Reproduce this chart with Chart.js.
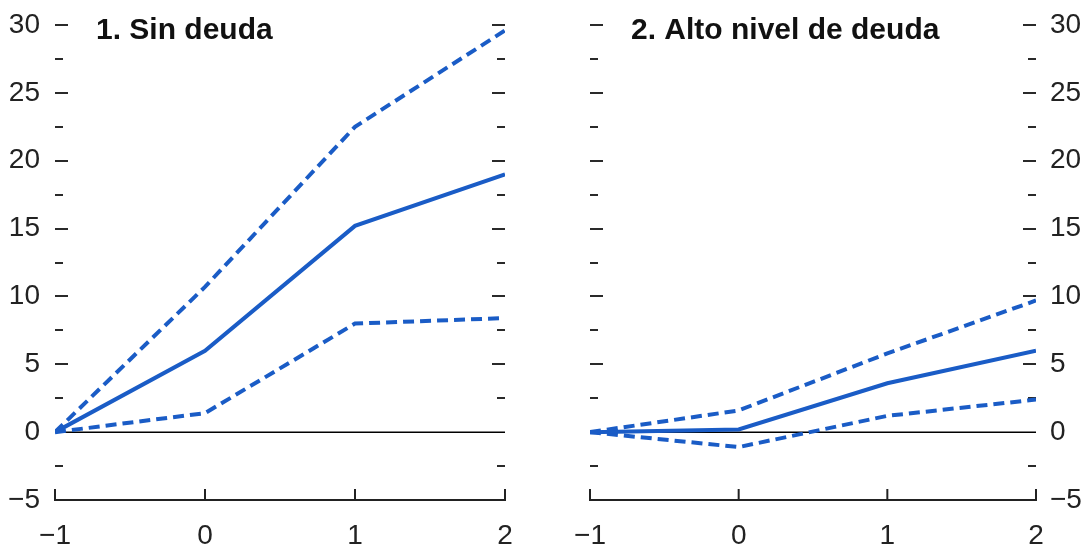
<!DOCTYPE html>
<html>
<head>
<meta charset="utf-8">
<script src="https://cdn.jsdelivr.net/npm/chart.js@4.4.1/dist/chart.umd.min.js"></script>
<style>
  html, body { margin: 0; padding: 0; background: #fff; }
  #wrap { position: relative; width: 1085px; height: 546px; }
  canvas { position: absolute; top: 0; }
</style>
</head>
<body>
<div id="wrap">
  <canvas id="left" width="545" height="546" style="left:0;width:545px;height:546px"></canvas>
  <canvas id="right" width="540" height="546" style="left:545px;width:540px;height:546px"></canvas>
</div>
<script>
// horizon (years)
const years = [-1, 0, 1, 2];

// panel 1: no debt
const noDebtMid = [0, 6.0, 15.2, 19.0];
const noDebtHigh = [0, 10.7, 22.5, 29.6];
const noDebtLow = [0, 1.4, 8.0, 8.4];

// panel 2: high debt
const highDebtMid = [0, 0.2, 3.6, 6.0];
const highDebtHigh = [0, 1.6, 5.8, 9.7];
const highDebtLow = [0, -1.1, 1.2, 2.4];

const panelTitles = ["1. Sin deuda", "2. Alto nivel de deuda"];

const BLUE = "#1a5cc6";
const FONT = "'Liberation Sans Narrow', 'Arial Narrow', 'Liberation Sans', sans-serif";

function pts(vals) {
  return years.map((x, i) => ({ x: x, y: vals[i] }));
}

function line(ctx, x1, y1, x2, y2) {
  ctx.beginPath();
  ctx.moveTo(x1, y1);
  ctx.lineTo(x2, y2);
  ctx.stroke();
}

const frame = {
  id: "frame",
  beforeDatasetsDraw(chart) {
    const { ctx, chartArea: a, scales } = chart;
    const x = scales.x, y = scales.y;
    ctx.save();
    // zero line
    ctx.strokeStyle = "#000";
    ctx.lineWidth = 1.5;
    const y0 = y.getPixelForValue(0);
    line(ctx, a.left, y0, a.right, y0);
    // inward y tick marks on both sides
    ctx.strokeStyle = "#2a2a2a";
    ctx.lineWidth = 2;
    for (let v = -2.5; v <= 30; v += 2.5) {
      if (v === 0) continue;
      const len = v % 5 === 0 ? 13 : 8;
      const py = Math.round(y.getPixelForValue(v));
      line(ctx, a.left, py, a.left + len, py);
      line(ctx, a.right - len, py, a.right, py);
    }
    // x axis line and ticks
    ctx.strokeStyle = "#222";
    line(ctx, a.left - 1, a.bottom, a.right + 1, a.bottom);
    years.forEach(v => {
      const px = x.getPixelForValue(v);
      line(ctx, px, a.bottom, px, a.bottom - 11);
    });
    // panel title
    ctx.fillStyle = "#111";
    ctx.font = "bold 30px " + FONT;
    ctx.textBaseline = "middle";
    ctx.textAlign = "left";
    ctx.fillText(chart.options.plugins.frame.title, a.left + 41, a.top + 6);
    ctx.restore();
  }
};

function makeChart(id, mid, hi, lo, title, side) {
  const ds = (vals, dashed) => ({
    data: pts(vals),
    borderColor: BLUE,
    borderWidth: 4,
    borderDash: dashed ? [11, 6] : [],
    pointRadius: 0,
    tension: 0,
    fill: false
  });
  return new Chart(document.getElementById(id), {
    type: "line",
    data: { datasets: [ds(hi, true), ds(mid, false), ds(lo, true)] },
    options: {
      responsive: false,
      animation: false,
      devicePixelRatio: 1,
      layout: {
        padding: side === "left"
          ? { top: 25, right: 40, left: 0, bottom: 0 }
          : { top: 25, right: 0, left: 45, bottom: 0 }
      },
      plugins: {
        legend: { display: false },
        tooltip: { enabled: false },
        frame: { title: title }
      },
      scales: {
        x: {
          type: "linear",
          min: -1,
          max: 2,
          grid: { display: false },
          border: { display: false },
          afterFit: s => { s.height = 46; },
          ticks: {
            stepSize: 1,
            padding: 11,
            color: "#222",
            font: { family: FONT, size: 28 },
            callback: v => String(v).replace("-", "\u2212")
          }
        },
        y: {
          position: side,
          min: -5,
          max: 30,
          grid: { display: false },
          border: { display: false },
          afterFit: s => { s.width = side === "left" ? 55 : 49; },
          ticks: {
            stepSize: 5,
            padding: side === "left" ? 7 : 6,
            color: "#222",
            font: { family: FONT, size: 28 },
            callback: v => String(v).replace("-", "\u2212")
          }
        }
      }
    },
    plugins: [frame]
  });
}

makeChart("left", noDebtMid, noDebtHigh, noDebtLow, panelTitles[0], "left");
makeChart("right", highDebtMid, highDebtHigh, highDebtLow, panelTitles[1], "right");
</script>
</body>
</html>
